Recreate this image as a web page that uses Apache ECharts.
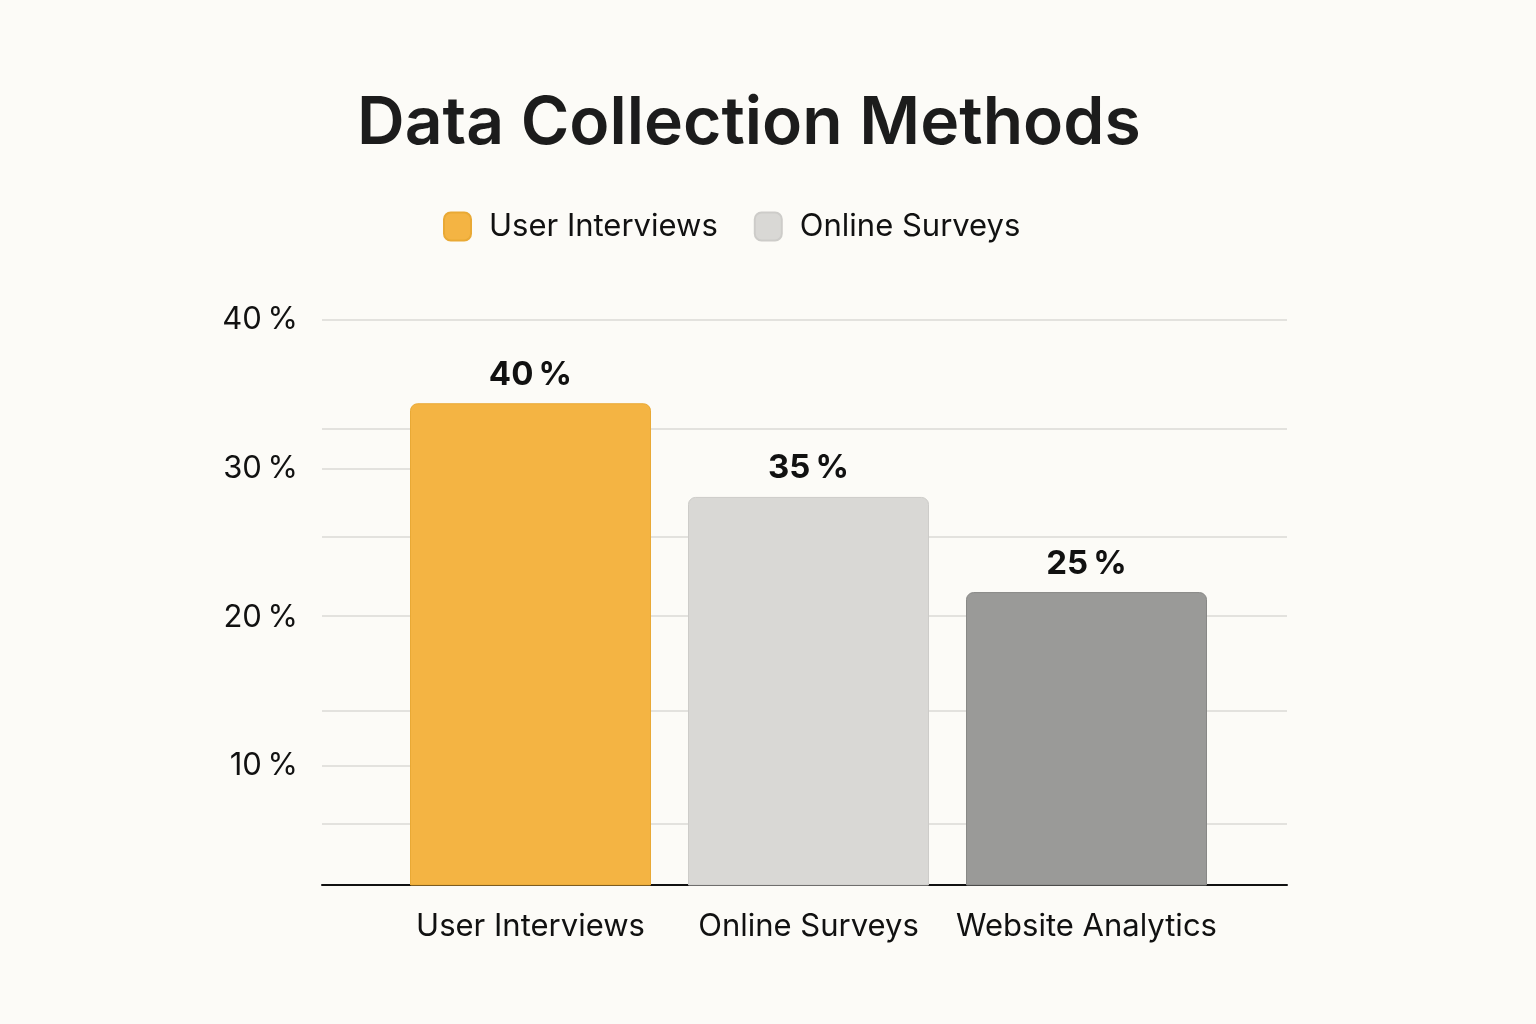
<!DOCTYPE html>
<html>
<head>
<meta charset="utf-8">
<title>Data Collection Methods</title>
<script src="https://cdn.jsdelivr.net/npm/echarts@6/dist/echarts.min.js"></script>
<style>
  html, body { margin: 0; padding: 0; background: #fcfbf7; }
  #barContainer { width: 1536px; height: 1024px; }
</style>
</head>
<body>
<div id="barContainer"></div>
<script>
// 数据
var categories = ['User Interviews', 'Online Surveys', 'Website Analytics'];
var legendNames = ['User Interviews', 'Online Surveys'];
// bar heights as drawn against the axis
var barValues = [34.4, 28.1, 21.7];
// text printed above each bar
var barLabels = ['40\u2009%', '35\u2009%', '25\u2009%'];
// y axis tick labels
var tickValues = [10, 20, 30, 40];
// short tick lines left of the first bar
var shortTicks = [10, 30];
// horizontal grid lines
var gridValues = [6.1, 13.7, 20.1, 25.4, 32.7, 40];
var barColors = ['#f4b443', '#d9d8d5', '#9a9a98'];
var barBorders = ['#e9a935', '#cdccc9', '#888886'];

window.onload = function () {
  var myBarChart = echarts.init(document.getElementById('barContainer'));
  var fontName = 'Inter, Roboto, sans-serif';

  var series = [];
  for (var i = 0; i < categories.length; i++) {
    series.push({
      name: categories[i],
      type: 'bar',
      xAxisIndex: 1,
      yAxisIndex: 2,
      barWidth: 241,
      barGap: '-100%',
      data: barValues.map(function (v, j) { return j === i ? v : '-'; }),
      itemStyle: {
        color: barColors[i],
        borderColor: barBorders[i],
        borderWidth: 1,
        borderRadius: [7, 7, 0, 0]
      },
      label: {
        show: true,
        position: 'top',
        distance: 12,
        fontFamily: fontName,
        fontSize: 33,
        fontWeight: 'bold',
        color: '#111',
        formatter: function (p) { return barLabels[p.dataIndex]; }
      }
    });
  }

  var option = {
    backgroundColor: '#fcfbf7',
    animation: false,
    title: {
      text: 'Data Collection Methods',
      left: 352,
      top: 86,
      textStyle: { fontFamily: fontName, fontSize: 66, fontWeight: 600, color: '#1c1c1c' }
    },
    legend: {
      data: legendNames,
      left: 443,
      top: 211,
      padding: 0,
      icon: 'roundRect',
      itemWidth: 27,
      itemHeight: 28,
      itemGap: 36,
      textStyle: { fontFamily: fontName, fontSize: 31, color: '#111', padding: [0, 0, 0, 13] }
    },
    grid: [
      // background: baseline, grid lines, y labels
      { left: 322, right: 249, top: 320, bottom: 139 },
      // bars
      { left: 391.5, right: 310.5, top: 320, bottom: 139 }
    ],
    xAxis: [
      {
        gridIndex: 0, type: 'value', min: 0, max: 1,
        axisLine: { show: true, onZero: false, lineStyle: { color: '#111', width: 2 } },
        axisTick: { show: false }, axisLabel: { show: false }, splitLine: { show: false }
      },
      {
        gridIndex: 1, type: 'category', data: categories,
        axisLine: { show: false }, axisTick: { show: false },
        axisLabel: { interval: 0, fontFamily: fontName, fontSize: 31, color: '#111', margin: 26 }
      }
    ],
    yAxis: [
      {
        gridIndex: 0, type: 'value', min: 2, max: 40,
        axisLine: { show: false },
        axisTick: { show: true, inside: true, length: 88, customValues: shortTicks, lineStyle: { color: '#e3e2de', width: 2 } },
        axisLabel: {
          customValues: tickValues, margin: 24,
          fontFamily: fontName, fontSize: 31, color: '#111',
          formatter: function (v) { return v + '\u2009%'; }
        },
        splitLine: { show: false }
      },
      {
        gridIndex: 0, type: 'value', min: 2, max: 40, position: 'left',
        axisLine: { show: false },
        axisTick: { show: false, customValues: gridValues },
        axisLabel: { show: false },
        splitLine: { show: true, lineStyle: { color: '#e3e2de', width: 2 } }
      },
      {
        gridIndex: 1, type: 'value', min: 2, max: 40, show: false
      }
    ],
    series: series
  };
  myBarChart.setOption(option);
};
</script>
</body>
</html>
